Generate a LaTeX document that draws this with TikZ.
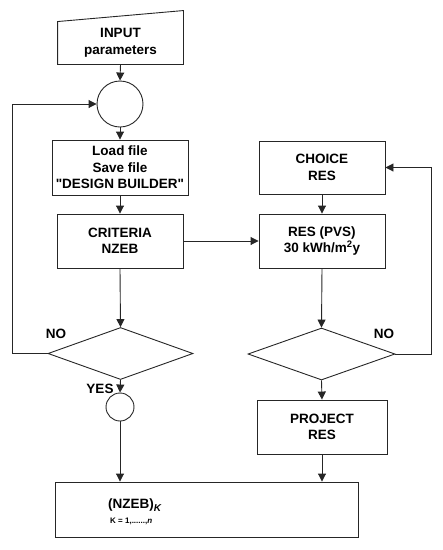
\documentclass[tikz,border=0pt]{standalone}
\usepackage{fontspec}
\setmainfont{Liberation Sans}
\usetikzlibrary{arrows.meta,shapes.geometric}

\begin{document}
\begin{tikzpicture}[x=1pt, y=-1pt, >={Triangle[length=8pt,width=8pt]},
  line/.style={draw=black!85, line width=0.9pt},
  box/.style={line, rectangle, align=center, inner sep=0pt,
    font=\bfseries\fontsize{13.5}{16.5}\selectfont},
  joint/.style={line, circle, inner sep=0pt},
  test/.style={line, diamond, inner sep=0pt},
  tag/.style={font=\bfseries\fontsize{13.5}{15}\selectfont}]
\useasboundingbox (0,0) rectangle (443,550);

% Left column
\node[box, draw=none, minimum width=125pt, minimum height=42pt] (in) at (120.5,43) {INPUT\\parameters};
\draw[line] (in.south west) -- (in.south east) -- ([yshift=11pt]in.north east) -- (in.north west) -- cycle;
\node[joint, minimum size=46pt] (c1) at (120,104) {};
\node[box, minimum width=136pt, minimum height=55pt] (load) at (120,167.5) {Load file\\Save file\\\textquotedbl DESIGN BUILDER\textquotedbl};
\node[box, minimum width=126pt, minimum height=54pt] (crit) at (120,241) {CRITERIA\\NZEB};
\node[test, minimum width=145pt, minimum height=52pt] (d1) at (120.5,353.5) {};
\node[joint, minimum size=28pt] (c2) at (120,407) {};

% Right column
\node[box, minimum width=126pt, minimum height=53pt] (choice) at (322,167.5) {CHOICE\\RES};
\node[box, minimum width=126pt, minimum height=54pt] (res) at (322,241) {RES (PVS)\\30 kWh/m\textsuperscript{2}y};
\node[test, minimum width=147pt, minimum height=52pt] (d2) at (321.5,354) {};
\node[box, minimum width=130pt, minimum height=54pt] (proj) at (322,427) {PROJECT\\RES};

% Result
\node[line, minimum width=303pt, minimum height=55pt, inner sep=0pt] (out) at (206.5,509.5) {};
\node[font=\bfseries\fontsize{13.5}{15}\selectfont, anchor=west, inner sep=0pt] (nzeb) at (108,505) {(NZEB)\raisebox{-3pt}{\fontsize{10}{10}\selectfont\textit{K}}};
\node[font=\bfseries\fontsize{8}{9}\selectfont, anchor=west, inner sep=0pt] (range) at (110,521) {K = 1,......,\textit{n}};

% Connectors
\draw[line, ->] (in.south) -- (c1.north);
\draw[line, ->] (c1.south) -- (load.north);
\draw[line, ->] (load.south) -- (crit.north);
\draw[line, ->] (crit.east) -- (res.west);
\draw[line, ->] (crit.south) -- (d1.north);
\draw[line, ->] (d1.west) -- ++(-35,0) |- (c1.west);
\draw[line, ->] (d1.south) -- (c2.north);
\draw[line, ->] (c2.south) -- (c2.south |- out.north);
\draw[line, ->] (choice.south) -- (res.north);
\draw[line, ->] (res.south) -- (d2.north);
\draw[line, ->] (d2.east) -- ++(36,0) |- (choice.east);
\draw[line, ->] (d2.south) -- (proj.north);
\draw[line, ->] (proj.south) -- (proj.south |- out.north);

% Labels
\node[tag] (no1) at (56,334) {NO};
\node[tag] (yes) at (100,389) {YES};
\node[tag] (no2) at (384,334) {NO};
\end{tikzpicture}
\end{document}
